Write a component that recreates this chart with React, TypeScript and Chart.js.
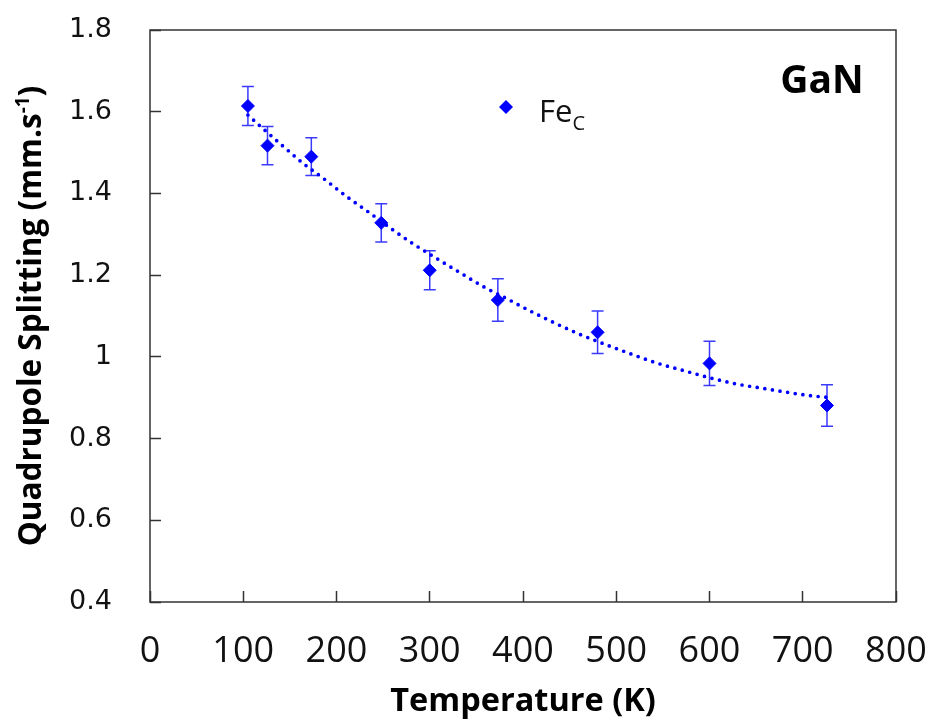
import React, { useEffect, useRef } from "react";
import { Chart, registerables } from "chart.js";

Chart.register(...registerables);

// Measured data (Temperature in K, quadrupole splitting in mm/s)
const temperatures = [105, 126, 173, 248, 300, 373, 480, 600, 726];
const splitting = [1.614, 1.517, 1.49, 1.328, 1.212, 1.139, 1.06, 0.984, 0.881];
const errors = [0.048, 0.047, 0.046, 0.047, 0.048, 0.052, 0.052, 0.054, 0.051];

// Dotted trend line
const trendT = [105, 120, 142, 164, 187, 210, 234, 261, 284, 308, 334, 359, 383, 408, 433, 458, 490, 516, 542, 573, 600, 628, 657, 684, 712, 727];
const trendV = [1.592, 1.561, 1.517, 1.474, 1.435, 1.394, 1.355, 1.31, 1.274, 1.24, 1.204, 1.17, 1.142, 1.112, 1.084, 1.058, 1.029, 1.007, 0.986, 0.966, 0.949, 0.934, 0.923, 0.913, 0.904, 0.901];

// Axis definitions
const xMin = 0, xMax = 800, xStep = 100;
const yMin = 0.4, yMax = 1.8, yStep = 0.2;

const xTitle = "Temperature (K)";
const yTitleMain = "Quadrupole Splitting (mm.s";
const yTitleSup = "-1";
const yTitleEnd = ")";
const legendMain = "Fe";
const legendSub = "C";
const panelLabel = "GaN";

const BLUE = "#0000FF";

const frameAndLabels = {
  id: "frameAndLabels",
  beforeDatasetsDraw(chart: any) {
    const { ctx, scales } = chart;
    const x = scales.x, y = scales.y;
    ctx.save();
    ctx.strokeStyle = "#3a3aff";
    ctx.lineWidth = 1.5;
    temperatures.forEach((t, i) => {
      const px = x.getPixelForValue(t);
      const top = y.getPixelForValue(splitting[i] + errors[i]);
      const bot = y.getPixelForValue(splitting[i] - errors[i]);
      ctx.beginPath();
      ctx.moveTo(px, top);
      ctx.lineTo(px, bot);
      ctx.moveTo(px - 6, top);
      ctx.lineTo(px + 6, top);
      ctx.moveTo(px - 6, bot);
      ctx.lineTo(px + 6, bot);
      ctx.stroke();
    });
    ctx.restore();
  },
  afterDraw(chart: any) {
    const { ctx, chartArea } = chart;
    const { left, top, right, bottom } = chartArea;
    ctx.save();
    // frame
    ctx.strokeStyle = "#333";
    ctx.lineWidth = 1.5;
    ctx.strokeRect(left, top, right - left, bottom - top);

    // legend
    const lx = left + 356, ly = top + 77;
    ctx.fillStyle = BLUE;
    ctx.beginPath();
    ctx.moveTo(lx - 7, ly);
    ctx.lineTo(lx, ly - 7);
    ctx.lineTo(lx + 7, ly);
    ctx.lineTo(lx, ly + 7);
    ctx.closePath();
    ctx.fill();
    ctx.fillStyle = "#111";
    ctx.textBaseline = "alphabetic";
    ctx.textAlign = "left";
    ctx.font = "31px 'Open Sans', sans-serif";
    ctx.fillText(legendMain, lx + 33, ly + 15);
    const w = ctx.measureText(legendMain).width;
    ctx.font = "20px 'Open Sans', sans-serif";
    ctx.fillText(legendSub, lx + 33 + w, ly + 23);

    // panel label
    ctx.font = "bold 39px 'Open Sans', sans-serif";
    ctx.textAlign = "center";
    ctx.fillStyle = "#000";
    ctx.fillText(panelLabel, left + 672, top + 63);

    // x title
    ctx.font = "bold 32.5px 'Open Sans', sans-serif";
    ctx.fillText(xTitle, (left + right) / 2, 711);

    // y title with superscript
    const mainFont = "bold 31.5px 'Open Sans', sans-serif";
    const supFont = "bold 19px 'Open Sans', sans-serif";
    ctx.font = mainFont;
    const w1 = ctx.measureText(yTitleMain).width;
    const w3 = ctx.measureText(yTitleEnd).width;
    ctx.font = supFont;
    const w2 = ctx.measureText(yTitleSup).width;
    const total = w1 + w2 + w3;
    ctx.translate(41, (top + bottom) / 2);
    ctx.rotate(-Math.PI / 2);
    ctx.textAlign = "left";
    let cx = -total / 2;
    ctx.font = mainFont;
    ctx.fillText(yTitleMain, cx, 0);
    cx += w1;
    ctx.font = supFont;
    ctx.fillText(yTitleSup, cx, -12);
    cx += w2;
    ctx.font = mainFont;
    ctx.fillText(yTitleEnd, cx, 0);
    ctx.restore();
  },
};

function zeroPadding(scale: any) {
  scale.paddingTop = 0;
  scale.paddingBottom = 0;
  scale.paddingLeft = 0;
  scale.paddingRight = 0;
}

export default function App() {
  const ref = useRef<HTMLCanvasElement | null>(null);

  useEffect(() => {
    if (!ref.current) return;
    const chart = new Chart(ref.current, {
      type: "scatter",
      data: {
        datasets: [
          {
            label: "Fe_C",
            data: temperatures.map((t, i) => ({ x: t, y: splitting[i] })),
            pointStyle: "rectRot",
            pointRadius: 6.5,
            pointBackgroundColor: BLUE,
            pointBorderColor: BLUE,
            pointBorderWidth: 1,
            showLine: false,
          },
          {
            label: "trend",
            data: trendT.map((t, i) => ({ x: t, y: trendV[i] })),
            showLine: true,
            pointRadius: 0,
            borderColor: BLUE,
            borderWidth: 3.7,
            borderDash: [0, 7.7],
            borderCapStyle: "round",
            cubicInterpolationMode: "monotone",
            fill: false,
          } as any,
        ],
      },
      options: {
        responsive: false,
        animation: false,
        layout: { padding: { left: 0, top: 30, right: 31, bottom: 0 } },
        plugins: {
          legend: { display: false },
          tooltip: { enabled: false },
          title: { display: false },
        },
        scales: {
          x: {
            type: "linear",
            min: xMin,
            max: xMax,
            afterFit(scale: any) {
              scale.height = 123;
              zeroPadding(scale);
            },
            ticks: {
              stepSize: xStep,
              color: "#111",
              padding: 39,
              font: { family: "'Open Sans', sans-serif", size: 36 },
            },
            grid: {
              display: true,
              drawOnChartArea: false,
              drawTicks: true,
              tickLength: -11,
              tickWidth: 1.5,
              tickColor: "#333",
            },
            border: { display: false },
          },
          y: {
            type: "linear",
            min: yMin,
            max: yMax,
            afterFit(scale: any) {
              scale.width = 150;
              zeroPadding(scale);
            },
            ticks: {
              stepSize: yStep,
              color: "#111",
              padding: 49,
              callback: (v: any) => String(Math.round(Number(v) * 10) / 10),
              font: { family: "'DejaVu Sans', sans-serif", size: 27 },
            },
            grid: {
              display: true,
              drawOnChartArea: false,
              drawTicks: true,
              tickLength: -11,
              tickWidth: 1.5,
              tickColor: "#333",
            },
            border: { display: false },
          },
        },
      },
      plugins: [frameAndLabels],
    });
    return () => chart.destroy();
  }, []);

  return (
    <div style={{ position: "fixed", left: 0, top: 0, width: 927, height: 725, background: "#fff" }}>
      <canvas ref={ref} width={927} height={725} style={{ display: "block" }} />
    </div>
  );
}
